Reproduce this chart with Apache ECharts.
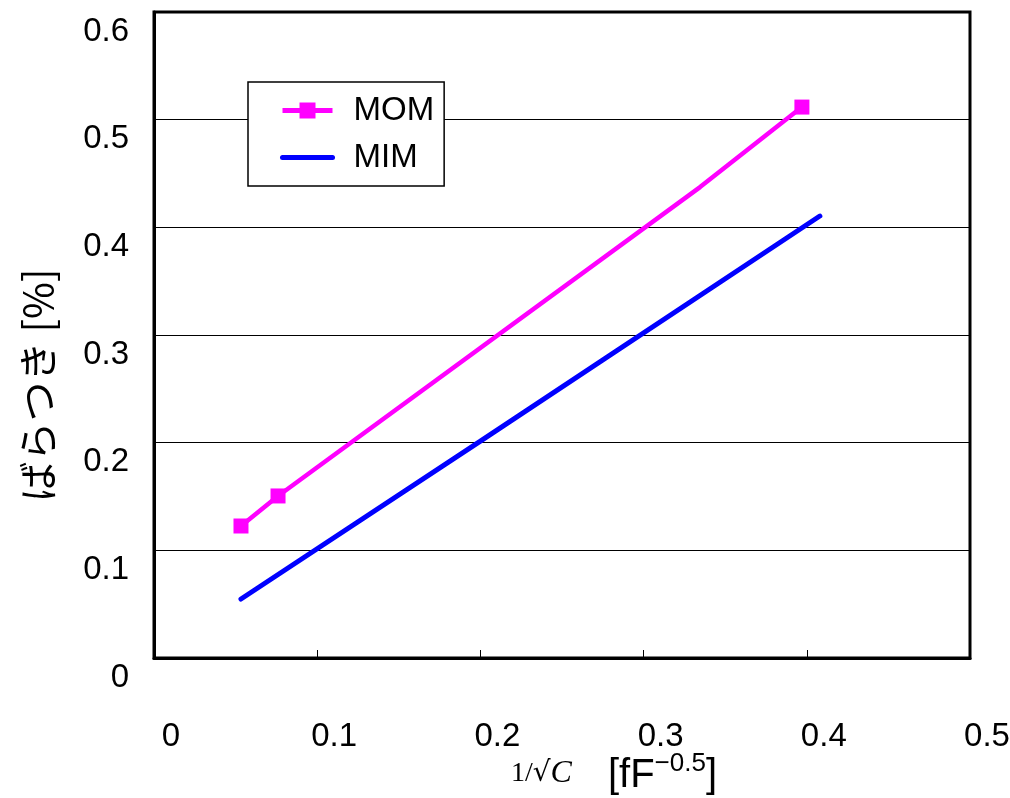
<!DOCTYPE html>
<html>
<head>
<meta charset="utf-8">
<script src="https://cdn.jsdelivr.net/npm/echarts@6/dist/echarts.min.js"></script>
<style>
  html, body { margin: 0; padding: 0; background: #fff; }
  #chart { width: 1010px; height: 798px; }
</style>
</head>
<body>
<div id="chart"></div>
<script>
var xTicks = [0, 0.1, 0.2, 0.3, 0.4, 0.5];
var yTicks = [0, 0.1, 0.2, 0.3, 0.4, 0.5, 0.6];
var seriesNames = ['MOM', 'MIM'];
// [1/sqrt(C), variation %]
var momData = [[0.0533, 0.1226], [0.076, 0.1505], [0.3346, 0.4374], [0.397, 0.5117]];
var momMarked = [true, true, false, true];
var mimData = [[0.0533, 0.0548], [0.2, 0.2015], [0.408, 0.4105]];

var chart = echarts.init(document.getElementById('chart'), null, { renderer: 'canvas' });
var sans = '"Liberation Sans", Arial, sans-serif';

chart.setOption({
  animation: false,
  backgroundColor: '#fff',
  grid: {
    left: 154, right: 40, top: 12, bottom: 140,
    outerBoundsMode: 'none',
    containLabel: false,
    show: true, borderColor: '#000', borderWidth: 3
  },
  legend: {
    orient: 'vertical',
    left: 248, top: 82,
    data: [
      { name: seriesNames[0] },
      { name: seriesNames[1], itemStyle: { opacity: 0 } }
    ],
    backgroundColor: '#fff',
    borderColor: '#000',
    borderWidth: 1.5,
    borderRadius: 0,
    padding: [12, 10, 12, 32],
    itemWidth: 50,
    itemHeight: 20,
    itemGap: 14,
    lineStyle: { width: 5 },
    textStyle: { fontFamily: sans, fontSize: 33, color: '#000', padding: [0, 0, 0, 16] }
  },
  xAxis: {
    type: 'value',
    min: xTicks[0], max: xTicks[xTicks.length - 1], interval: 0.1,
    axisLine: { show: true, onZero: false, lineStyle: { color: '#000', width: 3 } },
    axisTick: { show: true, inside: true, length: 8, lineStyle: { color: '#000', width: 1 } },
    splitLine: { show: false },
    axisLabel: {
      fontFamily: sans, fontSize: 33, color: '#000', margin: 62,
      padding: [0, 0, 0, 34],
      formatter: function (v) { return String(Math.round(v * 10) / 10); }
    },
    name: '{s|1/}{r|√}{c|C}{g|}{u|[fF}{sup|−0.5}{u|]}',
    nameLocation: 'middle',
    nameMoveOverlap: false,
    nameGap: 93,
    nameTextStyle: {
      padding: [0, 0, 0, 104],
      rich: {
        s: { fontFamily: '"Liberation Serif", "DejaVu Serif", serif', fontSize: 28, color: '#000', padding: [0, 0, 4, 0] },
        r: { fontFamily: '"DejaVu Serif", serif', fontSize: 28, color: '#000', padding: [0, 0, 4, 0] },
        c: { fontFamily: '"Liberation Serif", serif', fontStyle: 'italic', fontSize: 32, color: '#000', padding: [0, 0, 4, 0] },
        g: { width: 36 },
        u: { fontFamily: sans, fontSize: 40, color: '#000' },
        sup: { fontFamily: sans, fontSize: 26, color: '#000', verticalAlign: 'top', padding: [0, 0, 24, 0] }
      }
    }
  },
  yAxis: {
    type: 'value',
    min: yTicks[0], max: yTicks[yTicks.length - 1], interval: 0.1,
    axisLine: { show: true, lineStyle: { color: '#000', width: 3 } },
    axisTick: { show: false },
    splitLine: { show: true, lineStyle: { color: '#000', width: 1 } },
    axisLabel: {
      fontFamily: sans, fontSize: 33, color: '#000', margin: 25,
      verticalAlign: 'top', padding: [3, 0, 0, 0],
      formatter: function (v) { return String(Math.round(v * 10) / 10); }
    },
    name: 'ばらつき [%]',
    nameLocation: 'middle',
    nameMoveOverlap: false,
    nameGap: 96,
    nameRotate: 90,
    nameTextStyle: {
      fontFamily: '"Noto Sans CJK JP", sans-serif', fontSize: 40, color: '#000',
      padding: [0, 100, 0, 0]
    }
  },
  series: [
    {
      name: seriesNames[0],
      type: 'line',
      data: momData.map(function (p, i) {
        return momMarked[i] ? { value: p } : { value: p, symbol: 'none' };
      }),
      symbol: 'rect',
      symbolSize: 15,
      lineStyle: { color: '#ff00ff', width: 4.5 },
      itemStyle: { color: '#ff00ff' },
      z: 3
    },
    {
      name: seriesNames[1],
      type: 'line',
      data: mimData,
      symbol: 'none',
      lineStyle: { color: '#0000ff', width: 5, cap: 'round' },
      itemStyle: { color: '#0000ff' },
      z: 2
    }
  ]
});
window.addEventListener('resize', function () { chart.resize(); });
</script>
</body>
</html>
